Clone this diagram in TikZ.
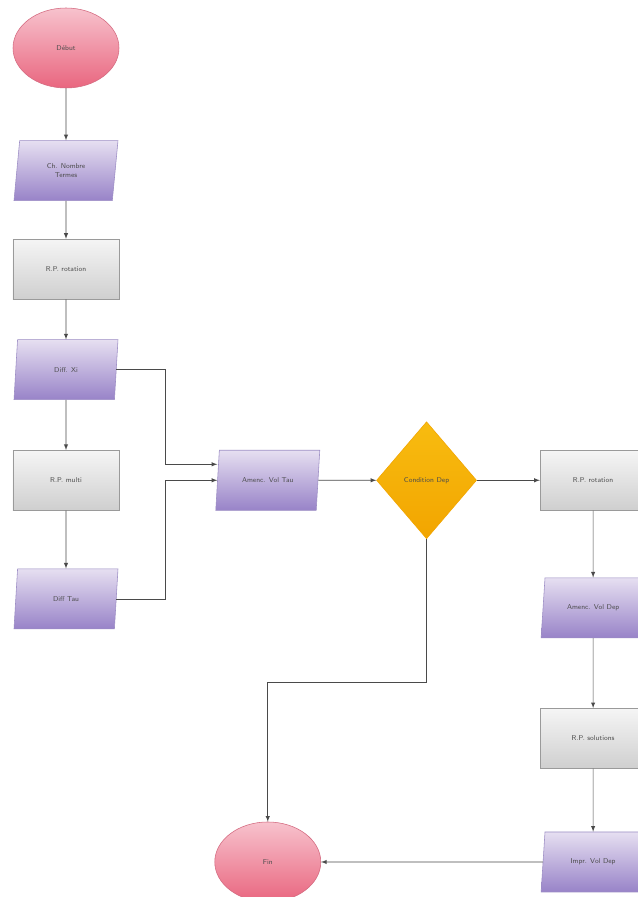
\documentclass[tikz,border=0pt]{standalone}
\usetikzlibrary{calc, positioning, arrows, shapes, shapes.geometric}

\definecolor{pinktop}{HTML}{F7C2CD}
\definecolor{pinkbot}{HTML}{E9667F}
\definecolor{pinkline}{HTML}{D46A80}
\definecolor{lilatop}{HTML}{E6DFF1}
\definecolor{lilabot}{HTML}{9883C8}
\definecolor{lilaline}{HTML}{9C8DC4}
\definecolor{graytop}{HTML}{F5F5F5}
\definecolor{graybot}{HTML}{CFCFCF}
\definecolor{grayline}{HTML}{9A9A9A}
\definecolor{goldtop}{HTML}{F8BC10}
\definecolor{goldbot}{HTML}{F2A500}
\definecolor{wire}{HTML}{4A4A4A}

\tikzset{
  txt/.style={font=\fontsize{5}{6}\selectfont\sffamily, text=black!70},
  terminal/.style={ellipse, draw=pinkline, top color=pinktop, bottom color=pinkbot,
    minimum width=2.65cm, minimum height=2cm, txt},
  inout/.style={trapezium, trapezium left angle=76, trapezium right angle=104,
    trapezium stretches body, draw=lilaline, top color=lilatop, bottom color=lilabot,
    minimum width=2.6cm, minimum height=1.5cm, align=center, txt},
  process/.style={rectangle, draw=grayline, top color=graytop, bottom color=graybot,
    minimum width=2.65cm, minimum height=1.5cm, txt},
  decision/.style={diamond, draw=goldbot, top color=goldtop, bottom color=goldbot,
    minimum width=2.5cm, minimum height=2.925cm, inner sep=0pt, txt},
  line/.style={draw=wire, line width=0.4pt, -latex}
}

\begin{document}
\begin{tikzpicture}
\useasboundingbox[fill=white] (0,0) rectangle (15.925,-22.425);

% left column
\node[terminal] (start) at (1.65,-1.2) {Début};
\node[inout, below=1.3cm of start] (para1) {Ch. Nombre\\Termes};
\node[process, below=0.95cm of para1] (rect1) {R.P. rotation};
\node[inout, below=1cm of rect1] (para2) {Diff. Xi};
\node[process, below=1.25cm of para2] (rect2) {R.P. multi};
\node[inout, below=1.45cm of rect2] (para3) {Diff Tau};

% middle row
\node[inout, right=2.45cm of rect2] (para4) {Amenc. Vol Tau};
\node[decision, right=1.45cm of para4] (cond) {Condition Dep};
\node[process, right=1.575cm of cond] (rect3) {R.P. rotation};

% right column
\node[inout, below=1.675cm of rect3] (para5) {Amenc. Vol Dep};
\node[process, below=1.75cm of para5] (rect4) {R.P. solutions};
\node[inout, below=1.575cm of rect4] (para6) {Impr. Vol Dep};
\node[terminal] (end) at (para4 |- para6) {Fin};

\draw[line] (start) -- (para1);
\draw[line] (para1) -- (rect1);
\draw[line] (rect1) -- (para2);
\draw[line] (para2) -- (rect2);
\draw[line] (rect2) -- (para3);

\draw[line] (para2.east) -| ([xshift=-1.3cm,yshift=4mm]para4.west) -- ([yshift=4mm]para4.west);
\draw[line] (para3.east) -| ([xshift=-1.3cm]para4.west) -- (para4.west);
\draw[line] (para4) -- (cond);
\draw[line] (cond) -- (rect3);

\draw[line] (rect3) -- (para5);
\draw[line] (para5) -- (rect4);
\draw[line] (rect4) -- (para6);
\draw[line] (para6) -- (end);
\draw[line] (cond.south) -- ++(0,-3.575) -| (end);
\end{tikzpicture}
\end{document}
